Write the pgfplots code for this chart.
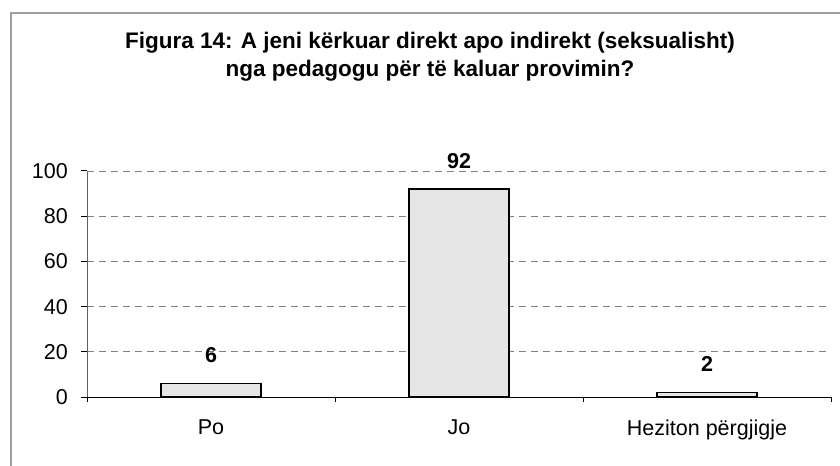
\documentclass[border=0pt]{standalone}
\usepackage{fontspec}
\setmainfont{Liberation Sans}
\usepackage{pgfplots}
\pgfplotsset{compat=1.18}
\definecolor{barfill}{HTML}{E6E6E6}
\definecolor{gridgray}{HTML}{808080}
\definecolor{framegray}{HTML}{A0A0A0}
\definecolor{yaxisgray}{HTML}{606060}

\begin{document}
\begin{tikzpicture}
\useasboundingbox (0,0) rectangle (840bp,466bp);
% outer chart frame (only top and left edges are visible)
\draw[framegray, line width=2bp] (11bp,-5bp) -- (11bp,453bp) -- (850bp,453bp);
\node[font=\fontsize{22.5bp}{28bp}\selectfont\bfseries, align=center] at (430bp,409bp)
  {Figura 14: A jeni kërkuar direkt apo indirekt (seksualisht)\\nga pedagogu për të kaluar provimin?};
\begin{axis}[
  at={(87bp,69bp)}, anchor=south west,
  scale only axis, width=744bp, height=226bp,
  xmin=-0.5, xmax=2.5, ymin=0, ymax=100,
  axis x line=bottom, axis y line=left,
  axis line style={-, line width=1bp},
  x axis line style={black},
  y axis line style={yaxisgray},
  xtick={0,1,2},
  xticklabels={Po, Jo, Heziton përgjigje},
  major x tick style={draw=none},
  minor xtick={-0.5,0.5,1.5,2.5},
  minor x tick style={black, line width=1bp},
  ytick={0,20,...,100},
  major y tick style={black, line width=1bp},
  tick align=outside,
  major tick length=6bp, minor tick length=5bp,
  ymajorgrids,
  major grid style={gridgray, line width=0.8bp, dash pattern=on 7bp off 5bp},
  /pgf/number format/assume math mode=true,
  tick label style={font=\fontsize{21.5bp}{24bp}\selectfont},
  yticklabel style={inner sep=0pt, xshift=-13bp},
  xticklabel style={inner sep=0pt, yshift=-17bp},
  clip=false,
  ybar, bar width=100bp,
  nodes near coords,
  nodes near coords style={font=\fontsize{21.5bp}{24bp}\selectfont\bfseries, anchor=south, inner sep=0pt, yshift=20bp},
]
\addplot[draw=black, line width=1.5bp, fill=barfill] coordinates {(0,6) (1,92) (2,2)};
\end{axis}
\end{tikzpicture}
\end{document}
